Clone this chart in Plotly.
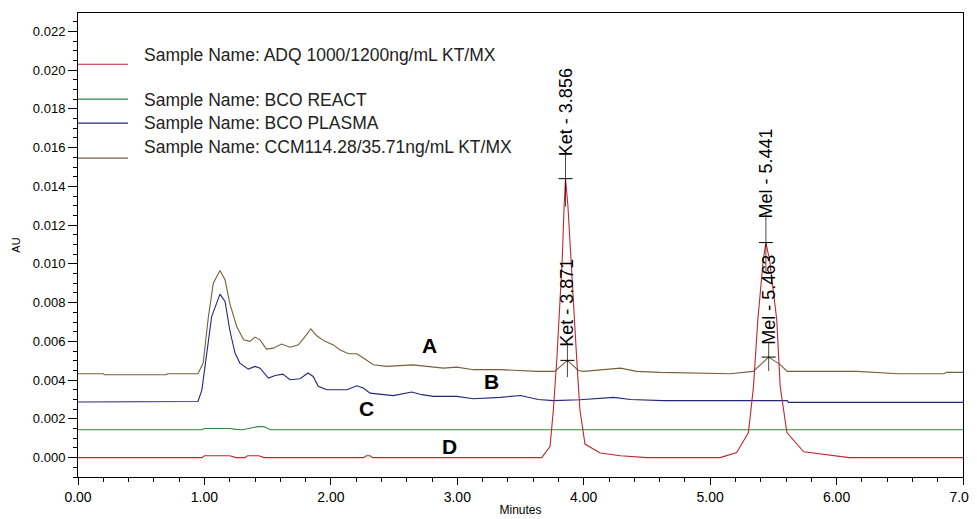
import plotly.graph_objects as go

# ---------------- data ----------------
sample_names = [
    "Sample Name: ADQ 1000/1200ng/mL KT/MX",
    "Sample Name: BCO REACT",
    "Sample Name: BCO PLASMA",
    "Sample Name: CCM114.28/35.71ng/mL KT/MX",
]

brown_x = [0, 0.2, 0.21, 0.7, 0.71, 0.949, 0.99, 1.03, 1.07, 1.123, 1.163, 1.2, 1.255, 1.31, 1.36,
           1.40, 1.44, 1.49, 1.545, 1.61, 1.677, 1.743, 1.796, 1.841, 1.888, 1.954, 2.02, 2.07, 2.14,
           2.205, 2.257, 2.336, 2.44, 2.574, 2.65, 2.76, 2.89, 2.996, 3.127, 3.34, 3.63, 3.77, 3.871,
           3.958, 4.0, 4.29, 4.42, 4.6, 5.16, 5.34, 5.463, 5.554, 5.61, 6.16, 6.49, 6.85, 6.87, 7.0]
brown_y = [0.00433, 0.00433, 0.00428, 0.00428, 0.00433, 0.00433, 0.00488, 0.0072, 0.0090, 0.00966,
           0.00918, 0.00797, 0.00677, 0.00608, 0.006, 0.00622, 0.00608, 0.0056, 0.00565, 0.00586,
           0.0057, 0.00582, 0.00625, 0.00665, 0.00629, 0.006, 0.00582, 0.00557, 0.00536, 0.00536,
           0.00514, 0.00479, 0.00471, 0.00474, 0.00479, 0.00471, 0.00462, 0.00467, 0.00454, 0.00454,
           0.00445, 0.00445, 0.00502, 0.0045, 0.00445, 0.00462, 0.00445, 0.0044, 0.00433, 0.00445,
           0.00519, 0.0048, 0.00445, 0.00445, 0.00433, 0.00433, 0.0044, 0.0044]

blue_x = [0, 0.949, 0.98, 1.013, 1.057, 1.123, 1.163, 1.2, 1.242, 1.28, 1.347, 1.40, 1.44, 1.506,
          1.56, 1.62, 1.677, 1.756, 1.82, 1.86, 1.90, 1.967, 2.126, 2.205, 2.257, 2.31, 2.494, 2.64,
          2.72, 2.81, 2.996, 3.127, 3.34, 3.5, 3.64, 3.76, 3.97, 4.235, 4.37, 4.63, 5.61, 5.62, 6.27, 7.0]
blue_y = [0.00287, 0.0029, 0.0035, 0.00522, 0.00728, 0.00844, 0.00806, 0.0066, 0.0054, 0.00488,
          0.00457, 0.00471, 0.00462, 0.00411, 0.00424, 0.00431, 0.00402, 0.00407, 0.00437, 0.00419,
          0.00368, 0.0035, 0.0035, 0.00371, 0.00359, 0.00333, 0.0032, 0.00339, 0.00325, 0.00316,
          0.00316, 0.00304, 0.00311, 0.00321, 0.003, 0.00294, 0.00299, 0.00311, 0.003, 0.00294,
          0.00294, 0.00285, 0.00285, 0.00285]

green_x = [0, 0.98, 1.0, 1.2, 1.25, 1.3, 1.35, 1.42, 1.47, 1.52, 7.0]
green_y = [0.00144, 0.00144, 0.0015, 0.0015, 0.00146, 0.00144, 0.0015, 0.0016, 0.0016, 0.00144, 0.00144]

red_x = [0, 0.98, 1.0, 1.2, 1.25, 1.32, 1.34, 1.43, 1.47, 2.26, 2.28, 2.31, 2.33, 3.668, 3.734,
         3.76, 3.787, 3.83, 3.845, 3.856, 3.875, 3.898, 3.945, 3.97, 4.01, 4.13, 4.29, 4.5, 5.08,
         5.21, 5.303, 5.343, 5.377, 5.42, 5.441, 5.47, 5.527, 5.554, 5.607, 5.74, 5.97, 6.1, 7.0]
red_y = [0, 0, 0.0001, 0.0001, 0.0, 0.0, 0.0001, 0.0001, 0, 0, 0.0001, 0.0001, 0, 0, 0.00058,
         0.00247, 0.00505, 0.0102, 0.0130, 0.0144, 0.0130, 0.0102, 0.00505, 0.00247, 0.0007,
         0.00024, 0.0001, 0, 0, 0.00026, 0.00129, 0.00368, 0.00711, 0.0102, 0.0111, 0.0102,
         0.00711, 0.00368, 0.00129, 0.0003, 0.0001, 0, 0]

peak_labels = ["Ket - 3.856", "Mel - 5.441", "Ket - 3.871", "Mel - 5.463"]
peak_times = [3.856, 5.441, 3.871, 5.463]
peak_heights = [0.0144, 0.0111, 0.00502, 0.00519]

trace_letters = ["A", "B", "C", "D"]
letter_x = [2.777, 3.273, 2.284, 2.935]
letter_y = [0.00579, 0.00393, 0.00256, 0.00058]

x_ticks = [0, 1, 2, 3, 4, 5, 6, 7]
y_ticks = [0.000, 0.002, 0.004, 0.006, 0.008, 0.010, 0.012, 0.014, 0.016, 0.018, 0.020, 0.022]

# ---------------- styles ----------------
RED = "#c3262e"
GREEN = "#2e8a3c"
BLUE = "#26267e"
BROWN = "#76603c"
FONT = "Liberation Sans, Arial, sans-serif"
label_gaps = [20, 22, 12, 10]   # px between peak apex and label text

fig = go.Figure()
for xs, ys, col, name in [(brown_x, brown_y, BROWN, sample_names[3]),
                          (blue_x, blue_y, BLUE, sample_names[2]),
                          (green_x, green_y, GREEN, sample_names[1]),
                          (red_x, red_y, RED, sample_names[0])]:
    fig.add_trace(go.Scatter(x=xs, y=ys, mode="lines", name=name,
                             line=dict(color=col, width=1.1), showlegend=False,
                             hoverinfo="skip"))

# peak marks: short horizontal tick + vertical leader
fig.add_trace(go.Scatter(x=peak_times, y=peak_heights, mode="markers", showlegend=False,
                         marker=dict(symbol="line-ew", size=10,
                                     line=dict(color="black", width=1)),
                         hoverinfo="skip"))
fig.add_trace(go.Scatter(x=peak_times, y=peak_heights, mode="markers", showlegend=False,
                         marker=dict(symbol="line-ns", size=[2 * g for g in label_gaps],
                                     line=dict(color="black", width=1)),
                         hoverinfo="skip"))

annotations = []
for lab, t, h, g in zip(peak_labels, peak_times, peak_heights, label_gaps):
    annotations.append(dict(x=t, y=h, text=lab, showarrow=False, textangle=-90,
                            xanchor="center", yanchor="bottom", yshift=g,
                            font=dict(family=FONT, size=18, color="black")))
for lt, lx, ly in zip(trace_letters, letter_x, letter_y):
    annotations.append(dict(x=lx, y=ly, text="<b>" + lt + "</b>", showarrow=False,
                            xanchor="center", yanchor="middle",
                            font=dict(family=FONT, size=21, color="black")))

# legend (drawn as in the original software)
leg_line_y = [0.8896, 0.8143, 0.7627, 0.6874]
leg_text_y = [0.9100, 0.8132, 0.7627, 0.7111]
leg_cols = [RED, GREEN, BLUE, BROWN]
shapes = []
for name, ly, ty, col in zip(sample_names, leg_line_y, leg_text_y, leg_cols):
    shapes.append(dict(type="line", xref="paper", yref="paper", x0=0.0, x1=0.0565,
                       y0=ly, y1=ly, line=dict(color=col, width=1.2)))
    annotations.append(dict(xref="paper", yref="paper", x=0.0723, y=ty, text=name,
                            showarrow=False, xanchor="left", yanchor="middle",
                            font=dict(family=FONT, size=17.5, color="#222")))

# the page body adds an 8 px offset, so the figure is 8 px smaller and shifted
fig.update_layout(
    width=969, height=511,
    margin=dict(l=70, r=14, t=5, b=41.5),
    paper_bgcolor="white", plot_bgcolor="white",
    font=dict(family=FONT, size=13, color="black"),
    annotations=annotations, shapes=shapes,
    showlegend=False,
)
fig.update_xaxes(range=[0, 7], tickvals=x_ticks, tickformat=".2f", automargin=False,
                 showgrid=False, zeroline=False, showline=True, linecolor="black",
                 linewidth=1, mirror=True, ticks="outside", ticklen=7, tickcolor="black",
                 tickfont=dict(family=FONT, size=14),
                 minor=dict(dtick=0.2, ticks="outside", ticklen=4, tickcolor="black"),
                 title=dict(text="Minutes", font=dict(family=FONT, size=12), standoff=1))
fig.update_yaxes(range=[-0.001, 0.02295], tickvals=y_ticks, tickformat=".3f", automargin=False,
                 showgrid=False, zeroline=False, showline=True, linecolor="black",
                 linewidth=1, mirror=True, ticks="outside", ticklen=9, tickcolor="black",
                 tickfont=dict(family=FONT, size=13),
                 minor=dict(dtick=0.0005, ticks="outside", ticklen=4, tickcolor="black"),
                 title=dict(text="AU", font=dict(family=FONT, size=11), standoff=10))

fig.write_html("out.html")
